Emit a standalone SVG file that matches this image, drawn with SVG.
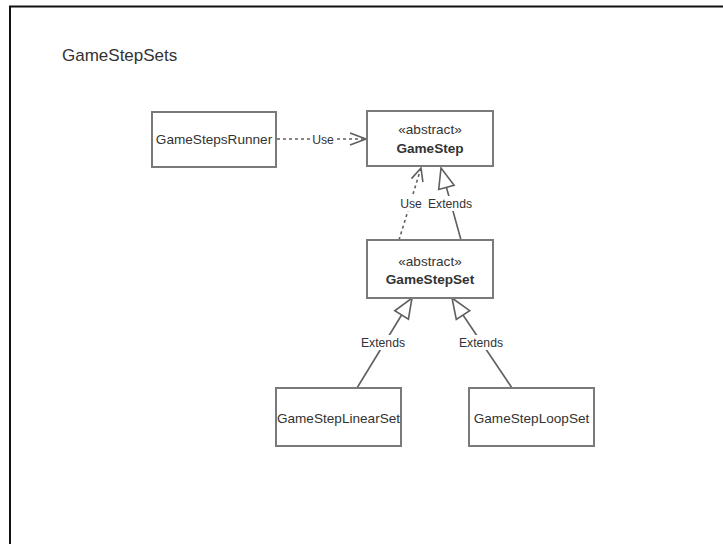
<svg xmlns="http://www.w3.org/2000/svg" width="723" height="544" viewBox="0 0 723 544">
  <style>
    .box { fill: #ffffff; stroke: #7a7a7a; stroke-width: 2; }
    .txt { font-family: "Liberation Sans", Arial, sans-serif; font-size: 13.6px; fill: #333333; text-anchor: middle; }
    .bold { font-weight: bold; }
    .lbl { font-family: "Liberation Sans", Arial, sans-serif; font-size: 12.2px; fill: #333333; text-anchor: middle; }
    .edge { fill: none; stroke: #5f5f5f; stroke-width: 1.6; }
    .dash { stroke-dasharray: 3 3; }
    .head { fill: #ffffff; stroke: #5f5f5f; stroke-width: 1.6; stroke-linejoin: miter; }
    .open { fill: none; stroke: #5f5f5f; stroke-width: 1.6; }
  </style>

  <rect width="723" height="544" fill="#ffffff"/>
  <!-- page frame -->
  <path d="M10,544 V6.5 H723" fill="none" stroke="#111111" stroke-width="2"/>

  <text x="62" y="61" font-family="Liberation Sans, Arial, sans-serif" font-size="17" fill="#333333">GameStepSets</text>

  <g id="connectors">
    <!-- GameStepsRunner uses GameStep -->
    <line class="edge dash" x1="277" y1="139" x2="365" y2="139"/>
    <polyline class="open" points="350,133 366,139 350,145"/>
    <rect x="310" y="131" width="26" height="16" fill="#ffffff"/>
    <text class="lbl" x="323" y="143.5">Use</text>

    <!-- GameStepSet uses GameStep -->
    <line class="edge dash" x1="399" y1="240" x2="420.5" y2="169.5"/>
    <polyline class="open" points="411.5,178.6 421,168 422.9,182.2"/>

    <!-- GameStepSet extends GameStep -->
    <line class="edge" x1="461" y1="240" x2="446.4" y2="187.3"/>
    <polygon class="head" points="441,168 454.1,185.2 438.7,189.4"/>

    <rect x="398" y="196" width="26" height="15" fill="#ffffff"/>
    <text class="lbl" x="411" y="208">Use</text>
    <rect x="428" y="196" width="44" height="15" fill="#ffffff"/>
    <text class="lbl" x="450" y="208">Extends</text>

    <!-- GameStepLinearSet extends GameStepSet -->
    <line class="edge" x1="357" y1="388" x2="401.6" y2="315"/>
    <polygon class="head" points="412,298 408.4,319.2 394.8,310.8"/>
    <rect x="361" y="335" width="44" height="15" fill="#ffffff"/>
    <text class="lbl" x="383" y="347">Extends</text>

    <!-- GameStepLoopSet extends GameStepSet -->
    <line class="edge" x1="512" y1="388" x2="463" y2="315"/>
    <polygon class="head" points="452,298 469.7,310.6 456.3,319.4"/>
    <rect x="459" y="335" width="44" height="15" fill="#ffffff"/>
    <text class="lbl" x="481" y="347">Extends</text>
  </g>

  <g id="GameStepsRunner">
    <rect class="box" x="152" y="112" width="124" height="55"/>
    <text class="txt" x="214" y="143.5">GameStepsRunner</text>
  </g>

  <g id="GameStep">
    <rect class="box" x="367" y="111" width="126" height="55"/>
    <text class="txt" x="430" y="134">«abstract»</text>
    <text class="txt bold" x="430" y="153">GameStep</text>
  </g>

  <g id="GameStepSet">
    <rect class="box" x="367" y="240" width="126" height="58"/>
    <text class="txt" x="430" y="266">«abstract»</text>
    <text class="txt bold" x="430" y="284">GameStepSet</text>
  </g>

  <g id="GameStepLinearSet">
    <rect class="box" x="276" y="388" width="125" height="58"/>
    <text class="txt" x="338.5" y="422.5">GameStepLinearSet</text>
  </g>

  <g id="GameStepLoopSet">
    <rect class="box" x="469" y="388" width="125" height="58"/>
    <text class="txt" x="531.5" y="422.5">GameStepLoopSet</text>
  </g>
</svg>
